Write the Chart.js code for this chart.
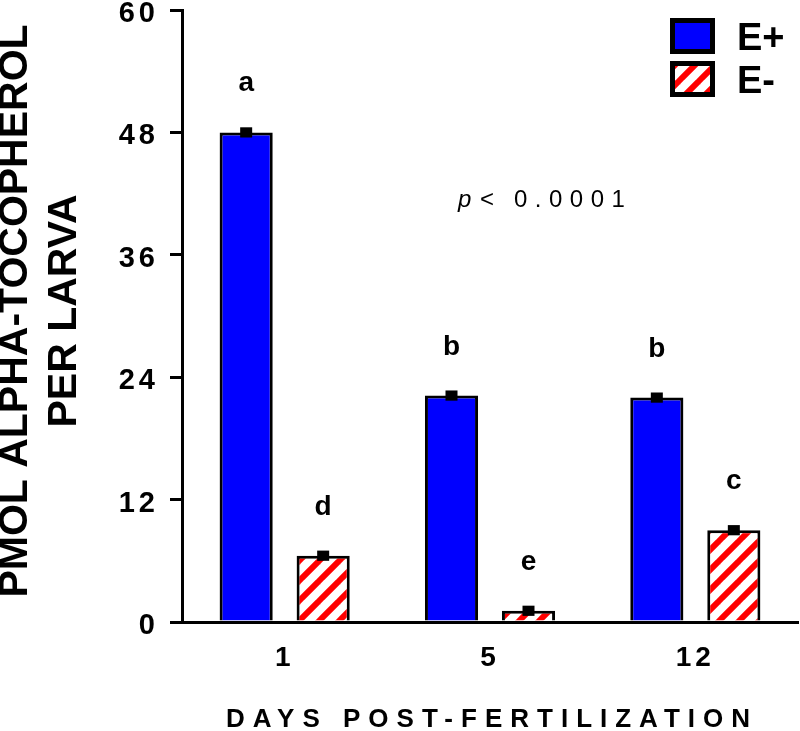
<!DOCTYPE html>
<html><head><meta charset="utf-8">
<script src="https://cdn.jsdelivr.net/npm/chart.js@4"></script>
<style>html,body{margin:0;padding:0;background:#fff;overflow:hidden}#wrap{width:800px;height:731px;position:relative}canvas{display:block}</style>
</head><body><div id="wrap"><canvas id="c" width="800" height="731"></canvas></div>
<script>
// ---- data ----
const categories = ['1', '5', '12'];
const seriesNames = ['E+', 'E-'];
const ePlus = [48.0, 22.2, 22.0];
const eMinus = [6.5, 1.1, 9.0];
const semPlus = [0.5, 0.5, 0.5];
const semMinus = [0.5, 0.5, 0.5];
const lettersPlus = ['a', 'b', 'b'];
const lettersMinus = ['d', 'e', 'c'];
const yTickValues = [0, 12, 24, 36, 48, 60];
const yTitleLines = ['PMOL ALPHA-TOCOPHEROL', 'PER LARVA'];
const xTitle = 'DAYS POST-FERTILIZATION';
const pLabel = ['p', '<', '0.0001'];

const FONT = '"Liberation Sans", Arial, Helvetica, sans-serif';
const BLUE = '#0000ff';
const RED = '#ff0000';

// hatch pattern for E-
function makeHatch() {
  const s = 20;
  const cv = document.createElement('canvas');
  cv.width = s; cv.height = s;
  const g = cv.getContext('2d');
  g.fillStyle = '#ffffff';
  g.fillRect(0, 0, s, s);
  g.strokeStyle = RED;
  g.lineWidth = 6;
  for (let k = -1; k <= 1; k++) {
    g.beginPath();
    g.moveTo(k * s - 2, s + 2);
    g.lineTo(k * s + s + 2, -2);
    g.stroke();
  }
  return g.createPattern(cv, 'repeat');
}
const canvas = document.getElementById('c');
const HATCH = makeHatch();

const spacingPlugin = {
  id: 'spacing',
  beforeLayout(chart) { chart.ctx.letterSpacing = '4px'; },
  beforeDraw(chart) { chart.ctx.letterSpacing = '4px'; }
};

const annotatePlugin = {
  id: 'annotate',
  afterDatasetsDraw(chart) {
    const ctx = chart.ctx;
    const y = chart.scales.y;
    const sets = [[ePlus, semPlus, lettersPlus], [eMinus, semMinus, lettersMinus]];
    ctx.save();
    ctx.letterSpacing = '0px';
    sets.forEach((s, di) => {
      const meta = chart.getDatasetMeta(di);
      meta.data.forEach((bar, i) => {
        const v = s[0][i], e = s[1][i];
        const top = y.getPixelForValue(v + e), bot = y.getPixelForValue(v - e);
        ctx.fillStyle = '#000';
        ctx.fillRect(bar.x - 6, top, 12, bot - top);
        ctx.font = 'bold 28px ' + FONT;
        ctx.textAlign = 'center';
        ctx.textBaseline = 'alphabetic';
        ctx.fillText(s[2][i], bar.x, y.getPixelForValue(v) - 41);
      });
    });
    ctx.restore();
  },
  afterDraw(chart) {
    const ctx = chart.ctx;
    const ca = chart.chartArea;
    const x = chart.scales.x, y = chart.scales.y;
    ctx.save();
    // y title
    ctx.letterSpacing = '0px';
    ctx.fillStyle = '#000';
    ctx.font = 'bold 41px ' + FONT;
    ctx.textAlign = 'center';
    ctx.textBaseline = 'middle';
    const cy = (ca.top + ca.bottom) / 2 - 5;
    [16, 65].forEach((lx, i) => {
      ctx.save();
      ctx.translate(lx, cy);
      ctx.rotate(-Math.PI / 2);
      ctx.fillText(yTitleLines[i], 0, 0);
      ctx.restore();
    });
    // x title
    ctx.letterSpacing = '8px';
    ctx.font = 'bold 26px ' + FONT;
    ctx.textAlign = 'center';
    ctx.textBaseline = 'alphabetic';
    ctx.fillText(xTitle, (ca.left + ca.right) / 2 + 2, 727);
    // p value
    const px = x.getPixelForValue(1) - 32;
    const py = y.getPixelForValue(40.7);
    ctx.textAlign = 'left';
    ctx.letterSpacing = '0px';
    ctx.font = 'italic 24px ' + FONT;
    ctx.fillText(pLabel[0], px, py);
    ctx.font = '24px ' + FONT;
    ctx.fillText(pLabel[1], px + 22, py);
    ctx.letterSpacing = '7.5px';
    ctx.fillText(pLabel[2], px + 56, py);
    // legend
    ctx.letterSpacing = '0px';
    const fills = [BLUE, HATCH];
    const boxY = [18, 61];
    fills.forEach((f, i) => {
      ctx.fillStyle = f;
      ctx.fillRect(670, boxY[i], 45, 36);
      ctx.lineWidth = 5;
      ctx.strokeStyle = '#000';
      ctx.strokeRect(672.5, boxY[i] + 2.5, 40, 31);
      ctx.fillStyle = '#000';
      ctx.font = 'bold 38px ' + FONT;
      ctx.textAlign = 'left';
      ctx.textBaseline = 'alphabetic';
      ctx.fillText(seriesNames[i], 737, boxY[i] + 32);
    });
    ctx.restore();
  }
};

new Chart(canvas, {
  type: 'bar',
  data: {
    labels: categories,
    datasets: [
      { label: seriesNames[0], data: ePlus, backgroundColor: BLUE, borderColor: '#000', borderWidth: 3,
        categoryPercentage: 0.75, barPercentage: 0.69 },
      { label: seriesNames[1], data: eMinus, backgroundColor: HATCH, borderColor: '#000', borderWidth: 3,
        categoryPercentage: 0.75, barPercentage: 0.69 }
    ]
  },
  options: {
    responsive: false,
    animation: false,
    devicePixelRatio: 1,
    layout: { padding: { left: 0, top: 10, right: 2, bottom: 0 } },
    plugins: { legend: { display: false }, tooltip: { enabled: false } },
    scales: {
      x: {
        grid: { display: true, drawOnChartArea: false, drawTicks: false },
        border: { display: true, color: '#000', width: 3 },
        ticks: { color: '#000', maxRotation: 0, minRotation: 0, font: { family: FONT, size: 28, weight: 'bold', lineHeight: 1 }, padding: 22 },
        afterFit(s) { s.height = 109; s.paddingLeft = 0; s.paddingRight = 0; }
      },
      y: {
        min: 0, max: 60,
        afterBuildTicks(s) { s.ticks = yTickValues.map(v => ({ value: v })); },
        grid: { display: true, drawOnChartArea: false, drawTicks: true, tickLength: 12, tickColor: '#000', tickWidth: 3, lineWidth: 3, color: '#000' },
        border: { display: true, color: '#000', width: 3 },
        ticks: { color: '#000', font: { family: FONT, size: 29, weight: 'bold', lineHeight: 0.7 }, padding: 11, labelOffset: 4 },
        afterFit(s) { s.width = 182; s.paddingTop = 0; s.paddingBottom = 0; }
      }
    }
  },
  plugins: [spacingPlugin, annotatePlugin]
});
</script></body></html>
